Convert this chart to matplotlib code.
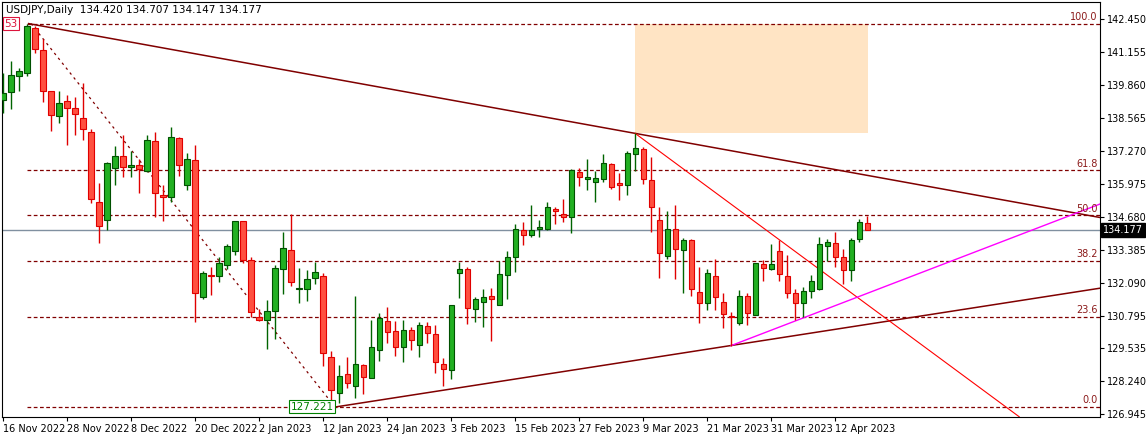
import matplotlib
matplotlib.use("Agg")
import matplotlib.pyplot as plt
import numpy as np
from matplotlib.patches import Rectangle

opens = [139.26,139.56,140.19,140.31,142.07,141.22,139.60,138.62,139.21,138.95,
         138.56,137.99,135.26,134.54,136.58,137.07,136.62,136.70,136.46,137.64,
         135.52,135.45,137.77,135.92,136.89,131.52,132.40,132.35,132.80,133.33,
         134.50,132.99,130.74,130.62,131.00,132.62,133.38,131.86,131.86,132.26,
         132.36,129.20,127.76,128.50,128.06,128.86,128.35,129.46,130.61,130.19,
         129.56,130.23,129.64,130.41,130.07,128.90,128.66,132.46,132.63,131.05,
         131.35,131.58,131.21,132.39,133.09,134.16,133.95,134.19,134.20,134.99,
         134.78,134.69,136.42,136.15,136.06,136.15,136.75,136.02,135.92,137.13,
         137.33,136.11,134.54,133.16,134.19,133.38,133.77,131.72,131.29,132.36,
         131.33,130.78,130.50,131.58,130.82,132.82,132.65,133.34,132.36,131.68,
         131.29,131.76,131.84,133.55,133.64,133.09,132.60,133.80,134.420]
highs = [140.31,140.79,140.50,142.25,142.16,141.64,139.60,139.61,139.46,139.38,
         139.93,138.11,136.02,136.84,137.46,137.89,137.24,136.93,137.89,137.99,
         135.92,138.20,137.82,137.17,137.50,132.57,132.73,133.12,133.61,134.50,
         134.50,133.12,131.05,131.42,132.77,134.10,134.79,132.67,132.60,132.91,
         132.49,129.42,128.87,129.17,131.58,128.91,130.63,130.90,131.16,130.60,
         130.63,130.37,130.57,130.54,130.44,129.13,131.21,132.92,132.73,131.55,
         131.85,131.90,132.95,133.35,134.40,134.49,135.14,134.55,135.26,135.08,
         135.37,136.56,136.58,136.93,136.46,137.14,136.80,136.39,137.24,137.95,
         137.43,137.04,135.05,134.92,135.14,133.84,133.80,132.73,132.65,133.03,
         131.68,130.96,131.79,131.68,132.86,132.99,133.60,133.75,133.18,131.86,
         131.94,132.40,133.88,133.81,134.07,133.42,133.84,134.59,134.707]
lows = [138.74,138.89,139.63,140.18,141.09,139.16,138.06,138.37,137.51,137.88,
        137.69,135.21,133.64,134.16,135.93,136.22,136.25,135.60,136.45,134.66,
        134.50,135.26,136.29,135.73,130.57,131.46,131.61,132.14,132.62,133.18,
        132.88,130.77,130.61,129.51,129.89,131.65,131.98,131.31,131.39,132.05,
        128.83,127.221,127.37,127.98,127.56,127.73,128.35,129.04,129.72,129.22,
        129.00,129.46,129.20,129.75,128.54,128.06,128.32,131.51,130.46,130.57,
        130.35,129.79,131.21,131.47,132.53,133.58,133.90,133.90,134.16,134.39,
        134.49,134.06,135.90,135.73,135.24,136.06,135.76,135.34,135.54,136.49,
        135.95,134.10,132.26,133.04,132.23,131.71,131.58,130.53,131.03,131.03,
        130.31,129.63,130.43,130.43,130.82,132.18,132.60,132.18,131.51,130.63,
        130.77,131.51,131.79,132.96,132.73,132.03,132.18,133.71,134.147]
closes = [139.55,140.23,140.40,142.16,141.25,139.60,138.66,139.13,138.95,138.70,
          138.11,135.37,134.31,136.78,137.05,136.62,136.71,136.57,137.68,135.60,
          135.45,137.80,136.70,136.93,131.71,132.46,132.37,132.86,133.53,134.50,
          133.00,130.96,130.62,130.97,132.67,133.44,132.11,131.89,132.23,132.50,
          129.33,127.88,128.45,128.15,128.90,128.41,129.56,130.70,130.18,129.59,
          130.23,129.85,130.43,130.11,128.97,128.70,131.21,132.62,131.09,131.45,
          131.52,131.45,132.43,133.09,134.19,133.95,134.16,134.27,135.05,134.92,
          134.69,136.52,136.23,136.24,136.19,136.78,135.84,135.92,137.17,137.38,
          136.15,135.08,133.25,134.19,133.43,133.77,131.84,131.31,132.46,131.52,
          130.86,130.76,131.58,130.90,132.86,132.69,132.82,132.43,131.71,131.31,
          131.77,132.15,133.60,133.68,133.12,132.60,133.77,134.46,134.177]

date_labels = ["16 Nov 2022","28 Nov 2022","8 Dec 2022","20 Dec 2022","2 Jan 2023",
               "12 Jan 2023","24 Jan 2023","3 Feb 2023","15 Feb 2023","27 Feb 2023",
               "9 Mar 2023","21 Mar 2023","31 Mar 2023","12 Apr 2023"]
price_ticks = [142.450,141.155,139.860,138.565,137.270,135.975,134.680,133.385,
               132.090,130.795,129.535,128.240,126.945]
fib_ratios = [0.0,23.6,38.2,50.0,61.8,100.0]
fib_low, fib_high = 127.221, 142.253
last_price = 134.177

fig = plt.figure(figsize=(11.46,4.38), dpi=100)
ax = fig.add_axes([2/1146, 21/438, 1098/1146, 415/438])
ax.set_xlim(-0.125, 137.1)
ax.set_ylim(126.83, 143.10)

dark = '#800000'
ax.add_patch(Rectangle((79, 137.95), 108-79+0.1, fib_high-137.95, facecolor='#FFE4C4', edgecolor='none', zorder=0))
for r in fib_ratios:
    lv = fib_low + (fib_high-fib_low)*r/100
    ax.plot([3, 137.1], [lv, lv], color=dark, lw=0.9, ls=(0,(3,2)), zorder=1)
    ax.text(136.8, lv+0.06, f"{r:.1f}", color='#8B1A1A', fontsize=7, ha='right', va='bottom', zorder=5)
ax.plot([3.5, 41.5], [fib_high, fib_low], color=dark, lw=0.9, ls=(0,(2,3)), zorder=1)
ax.axhline(last_price, color='#8090A0', lw=1, zorder=1)
x0, y0, x1, y1 = 3.2, fib_high, 79, 137.95
s = (y1-y0)/(x1-x0)
ax.plot([x0, 137.1], [y0, y0+s*(137.1-x0)], color=dark, lw=1.1, zorder=2)
ax.plot([41.5, 137.1], [fib_low, 131.88], color=dark, lw=1.1, zorder=2)
ax.plot([79, 127], [137.95, 126.84], color='#FF0000', lw=0.8, zorder=2)
ax.plot([91, 137.1], [129.63, 135.18], color='#FF00FF', lw=1, zorder=2)

idx = np.arange(len(opens))
o = np.array(opens); h = np.array(highs); l = np.array(lows); c = np.array(closes)
up = c >= o
for i in idx:
    col_w = '#006400' if up[i] else '#E00000'
    ax.vlines(i, l[i], h[i], color=col_w, lw=1, zorder=3)
    bot = min(o[i], c[i]); hgt = max(abs(c[i]-o[i]), 0.04)
    ax.add_patch(Rectangle((i-0.32, bot), 0.64, hgt,
                 facecolor='#22B022' if up[i] else '#FF5040',
                 edgecolor='#005000' if up[i] else '#E00000', lw=0.8, zorder=4))

ax.text(41.3, fib_low+0.02, "127.221", color='#008000', fontsize=7.5, ha='right', va='center',
        bbox=dict(facecolor='white', edgecolor='#008000', pad=1.2, lw=0.8), zorder=6)
ax.text(0.15, fib_high, "53", color='#DC143C', fontsize=7.5, ha='left', va='center',
        bbox=dict(facecolor='white', edgecolor='#DC143C', pad=1.2, lw=0.8), zorder=6)
ax.text(0.4, 142.80, "USDJPY,Daily  134.420 134.707 134.147 134.177", fontsize=7.5,
        ha='left', va='center', zorder=6)

ax.set_xticks(np.arange(0, 8*len(date_labels), 8))
ax.set_xticklabels(date_labels, fontsize=7, ha='left')
ax.yaxis.tick_right()
ax.set_yticks(price_ticks)
ax.set_yticklabels([f"{p:.3f}" for p in price_ticks], fontsize=7)
ax.tick_params(length=3, width=0.8, pad=2)
for sp in ax.spines.values():
    sp.set_linewidth(0.8)
ax.text(1.003, (last_price-126.83)/(143.10-126.83), f"{last_price:.3f}", transform=ax.transAxes,
        color='white', fontsize=7, ha='left', va='center',
        bbox=dict(facecolor='black', edgecolor='black', pad=1.5), clip_on=False, zorder=7)
fig.savefig("out.png", dpi=100)
